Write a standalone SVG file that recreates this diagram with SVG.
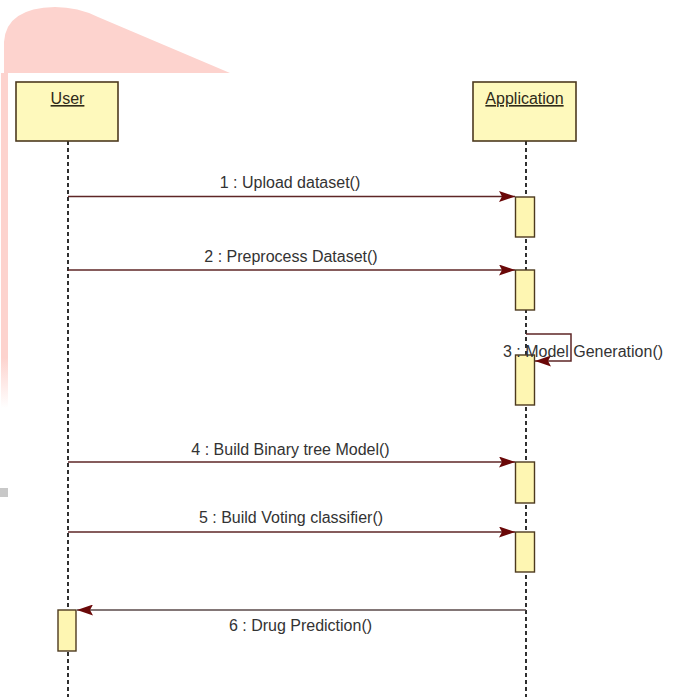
<svg xmlns="http://www.w3.org/2000/svg" width="678" height="697" viewBox="0 0 678 697">
  <defs>
    <style>
      text { font-family: "Liberation Sans", Arial, sans-serif; font-size: 16px; fill: #333333; }
      .hdr { text-anchor: middle; text-decoration: underline; fill: #2f2a18; }
      .lbl { text-anchor: middle; }
      .box { fill: #FEF9BC; stroke: #4d3a1e; stroke-width: 1.6; }
      .act { fill: #FEF6B2; stroke: #4d3a1e; stroke-width: 1.4; }
      .life { stroke: #1a1a1a; stroke-width: 1.8; stroke-dasharray: 4 3; fill: none; }
      .msg { stroke: #5e2626; stroke-width: 1.5; fill: none; }
      .ret { stroke: #5a4848; stroke-width: 1.5; fill: none; }
    </style>
    <marker id="arr" markerWidth="16" markerHeight="11" refX="16" refY="5.5" orient="auto" markerUnits="userSpaceOnUse">
      <path d="M0,0 L16,5.5 L0,11 L3,5.5 Z" fill="#6a0808"/>
    </marker>
    <linearGradient id="pinkfade" x1="0" y1="0" x2="0" y2="1">
      <stop offset="0" stop-color="#FDD3CE"/>
      <stop offset="0.85" stop-color="#FDD3CE"/>
      <stop offset="1" stop-color="#FDD3CE" stop-opacity="0"/>
    </linearGradient>
  </defs>

  <rect x="0" y="0" width="678" height="697" fill="#ffffff"/>

  <!-- watermark -->
  <g id="watermark">
    <path d="M4,73 L4,42 Q6,8 55,7 Q78,7 98,17 L230,73 Z" fill="#FDD3CE"/>
    <rect x="1" y="73" width="7" height="335" fill="url(#pinkfade)"/>
    <rect x="0" y="488" width="8" height="9" fill="#c8c8c8"/>
  </g>

  <!-- lifelines -->
  <g id="lifelines">
    <line class="life" x1="68" y1="141" x2="68" y2="697"/>
    <line class="life" x1="526" y1="141" x2="526" y2="697"/>
  </g>

  <g id="user">
    <rect class="box" x="16" y="82" width="102" height="59"/>
    <text class="hdr" x="67.5" y="104">User</text>
  </g>

  <g id="application">
    <rect class="box" x="473" y="82" width="103" height="59"/>
    <text class="hdr" x="524.5" y="104">Application</text>
  </g>

  <g id="activations">
    <rect class="act" x="515.5" y="197" width="19" height="40"/>
    <rect class="act" x="515.5" y="270" width="19" height="40"/>
    <rect class="act" x="515.5" y="355" width="19" height="50"/>
    <rect class="act" x="515.5" y="462" width="19" height="41"/>
    <rect class="act" x="515.5" y="532" width="19" height="40"/>
    <rect class="act" x="58" y="610" width="18" height="41"/>
  </g>

  <g id="connectors">
    <line class="msg" x1="68" y1="196.5" x2="515" y2="196.5" marker-end="url(#arr)"/>
    <line class="msg" x1="68" y1="270" x2="515" y2="270" marker-end="url(#arr)"/>
    <path class="msg" d="M526,334 H571 V361 H535" marker-end="url(#arr)"/>
    <line class="msg" x1="68" y1="462" x2="515" y2="462" marker-end="url(#arr)"/>
    <line class="msg" x1="68" y1="532" x2="515" y2="532" marker-end="url(#arr)"/>
    <line class="ret" x1="526" y1="610" x2="77" y2="610" marker-end="url(#arr)"/>
  </g>

  <g id="labels">
    <text class="lbl" x="290" y="188">1 : Upload dataset()</text>
    <text class="lbl" x="291" y="262">2 : Preprocess Dataset()</text>
    <text class="lbl" x="583" y="357">3 : Model Generation()</text>
    <text class="lbl" x="290.5" y="455">4 : Build Binary tree Model()</text>
    <text class="lbl" x="291" y="523">5 : Build Voting classifier()</text>
    <text class="lbl" x="300.5" y="631">6 : Drug Prediction()</text>
  </g>
</svg>
